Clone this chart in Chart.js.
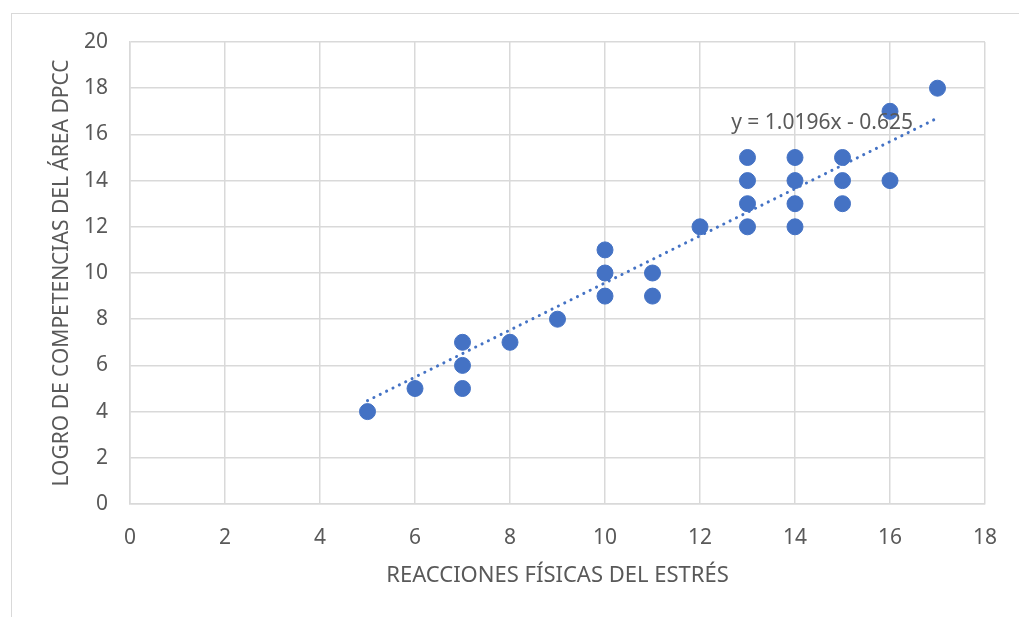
<!DOCTYPE html>
<html>
<head>
<meta charset="utf-8">
<script src="https://cdn.jsdelivr.net/npm/chart.js@4.4.1/dist/chart.umd.min.js"></script>
<style>
  html, body { margin: 0; padding: 0; background: #fff; }
  #wrap { position: relative; width: 1019px; height: 617px; }
  #frame {
    position: absolute; left: 11px; top: 13px; right: -5px; bottom: -5px;
    border-left: 1.5px solid #d9d9d9; border-top: 1.5px solid #d9d9d9;
    pointer-events: none;
  }
  canvas { position: absolute; left: 0; top: 0; }
</style>
</head>
<body>
<div id="wrap">
  <div id="frame"></div>
  <canvas id="chart" width="1019" height="617"></canvas>
</div>
<script>
// puntos
const xValues = [5, 6, 7, 7, 7, 8, 9, 10, 10, 10, 11, 11, 12, 13, 13, 13, 13, 14, 14, 14, 14, 15, 15, 15, 16, 16, 17];
const yValues = [4, 5, 7, 6, 5, 7, 8, 11, 10, 9, 10, 9, 12, 15, 14, 13, 12, 15, 14, 13, 12, 15, 14, 13, 17, 14, 18];

// línea de tendencia (ecuación mostrada)
const trendSlope = 1.0196;
const trendIntercept = -0.625;
const trendLabel = 'y = 1.0196x - 0.625';

const xTitle = 'REACCIONES FÍSICAS DEL ESTRÉS';
const yTitle = 'LOGRO DE COMPETENCIAS DEL ÁREA DPCC';

const blue = '#4472C4';
const textGrey = '#595959';
const gridGrey = '#d9d9d9';
const fontFamily = '"Noto Sans", "Open Sans", sans-serif';

const points = xValues.map((x, i) => ({ x, y: yValues[i] }));
const xMin = Math.min(...xValues), xMax = Math.max(...xValues);
const trendPoints = [xMin, xMax].map(x => ({ x, y: trendSlope * x + trendIntercept }));

const trendText = {
  id: 'trendText',
  afterDatasetsDraw(chart) {
    const { ctx, scales: { x, y } } = chart;
    ctx.save();
    ctx.font = '21px ' + fontFamily;
    ctx.fillStyle = textGrey;
    ctx.textAlign = 'center';
    ctx.textBaseline = 'middle';
    ctx.fillText(trendLabel, x.getPixelForValue(14.57), y.getPixelForValue(16.5));
    ctx.restore();
  }
};

new Chart(document.getElementById('chart'), {
  type: 'scatter',
  data: {
    datasets: [
      {
        data: points,
        backgroundColor: blue,
        borderColor: blue,
        pointRadius: 8,
        pointHoverRadius: 8,
        order: 1
      },
      {
        type: 'line',
        data: trendPoints,
        borderColor: blue,
        borderWidth: 3,
        borderDash: [0.1, 7],
        borderCapStyle: 'round',
        pointRadius: 0,
        fill: false,
        order: 2
      }
    ]
  },
  plugins: [trendText],
  options: {
    responsive: false,
    animation: false,
    layout: { padding: { top: 42, right: 34, left: 0, bottom: 0 } },
    plugins: { legend: { display: false }, tooltip: { enabled: false } },
    scales: {
      x: {
        min: 0, max: 18,
        ticks: { stepSize: 2, color: textGrey, font: { size: 21, family: fontFamily }, padding: 21 },
        grid: { color: gridGrey, lineWidth: 1.5, drawTicks: false },
        border: { color: gridGrey, width: 1.5 },
        title: { display: true, text: xTitle, color: textGrey, font: { size: 22, family: fontFamily }, padding: { top: 0, bottom: 28 } },
        afterFit: s => { s.height = 113; }
      },
      y: {
        min: 0, max: 20,
        ticks: { stepSize: 2, color: textGrey, font: { size: 21, family: fontFamily }, padding: 22 },
        grid: { color: gridGrey, lineWidth: 1.5, drawTicks: false },
        border: { color: gridGrey, width: 1.5 },
        title: { display: true, text: yTitle, color: textGrey, font: { size: 21, family: fontFamily }, padding: { top: 49, bottom: 0 } },
        afterFit: s => { s.width = 130; }
      }
    }
  }
});
</script>
</body>
</html>
